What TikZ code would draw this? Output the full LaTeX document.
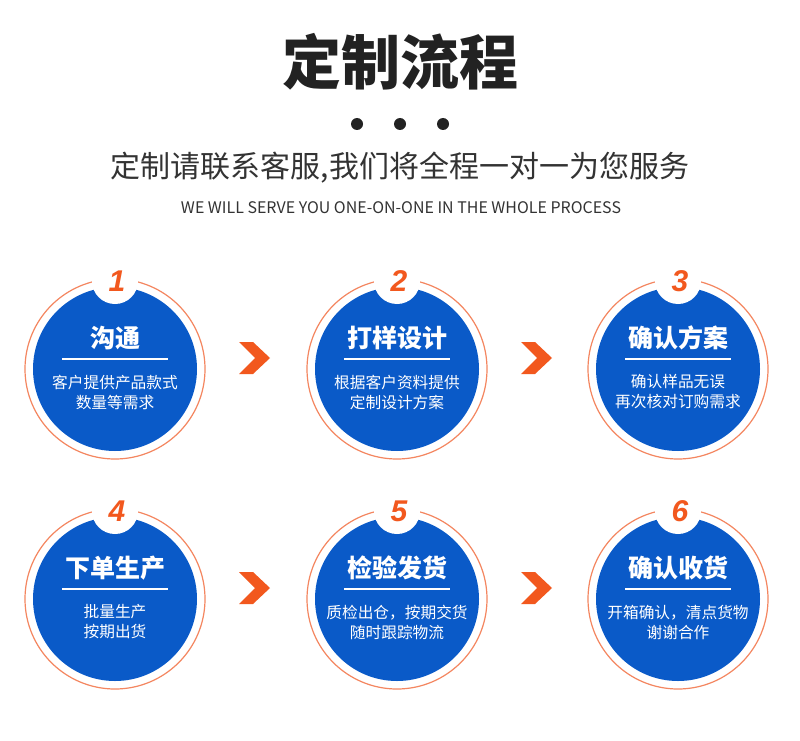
\documentclass[tikz,border=0pt]{standalone}
\usepackage{fontspec}
\setmainfont{Noto Sans CJK SC}
\newfontfamily\numfont{Liberation Sans}
\definecolor{cblue}{RGB}{10,90,200}
\definecolor{corange}{RGB}{242,88,30}
\definecolor{cring}{RGB}{244,134,96}
\definecolor{cdark}{RGB}{34,34,34}
\definecolor{cgray}{RGB}{51,51,51}
\tikzset{
  steptitle/.style={text=white,font=\fontsize{25}{25}\selectfont\bfseries,inner sep=0pt},
  stepbody/.style={text=white,font=\fontsize{15.7}{20}\selectfont,inner sep=0pt,align=center},
  stepnum/.style={text=corange,font=\numfont\fontsize{30}{30}\selectfont\bfseries\itshape,inner sep=0pt},
  chev/.style={fill=corange},
}
\newcommand{\stepcircle}[5]{%
  % #1 name, #2 center, #3 number, #4 title, #5 body
  \coordinate (#1) at #2;
  \draw[cring,line width=1.2pt] (#1) circle (90pt);
  \fill[cblue] (#1) circle (82pt);
  \fill[white] ($(#1)+(0,-88)$) circle (23pt);
  \node[stepnum] (#1num) at ($(#1)+(2,-88)$) {#3};
  \node[steptitle] (#1title) at ($(#1)+(0,-31)$) {#4};
  \draw[white,line width=1.2pt] ($(#1)+(-53,-10)$) -- ($(#1)+(53,-10)$);
  \node[stepbody] (#1body) at ($(#1)+(0,23)$) {#5};
}
\newcommand{\chevron}[2]{%
  \coordinate (#1) at #2;
  \fill[chev] ($(#1)+(-16,-16)$) -- ($(#1)+(-2,-16)$) -- ($(#1)+(15,0)$) -- ($(#1)+(-2,16)$) -- ($(#1)+(-16,16)$) -- ($(#1)+(0,0)$) -- cycle;
}
\usetikzlibrary{calc}
\begin{document}
\begin{tikzpicture}[x=1pt,y=-1pt]
\useasboundingbox (0,0) rectangle (800,741);
\fill[white] (0,0) rectangle (800,741);
\node[text=cdark,font=\fontsize{59}{59}\selectfont\bfseries,inner sep=0pt] (title) at (400,62) {定制流程};
\foreach \x/\n in {357/d1,400/d2,443/d3} \fill[cdark] (\x,124) circle (6pt);
\node[text=cgray,font=\fontsize{30}{30}\selectfont,inner sep=0pt] (sub) at (400,168) {定制请联系客服,我们将全程一对一为您服务};
\node[text=cgray,inner sep=0pt] (eng) at (401,208) {\resizebox{440pt}{!}{\fontsize{15}{15}\selectfont WE WILL SERVE YOU ONE-ON-ONE IN THE WHOLE PROCESS}};
\stepcircle{s1}{(115,369)}{1}{沟通}{客户提供产品款式\\数量等需求}
\stepcircle{s2}{(397,369)}{2}{打样设计}{根据客户资料提供\\定制设计方案}
\stepcircle{s3}{(678,369)}{3}{确认方案}{确认样品无误\\再次核对订购需求}
\stepcircle{s4}{(115,599)}{4}{下单生产}{批量生产\\按期出货}
\stepcircle{s5}{(397,599)}{5}{检验发货}{质检出仓，按期交货\\随时跟踪物流}
\stepcircle{s6}{(678,599)}{6}{确认收货}{开箱确认，清点货物\\谢谢合作}
\chevron{a1}{(255,358)}
\chevron{a2}{(537,358)}
\chevron{a3}{(255,588)}
\chevron{a4}{(537,588)}
\end{tikzpicture}
\end{document}
